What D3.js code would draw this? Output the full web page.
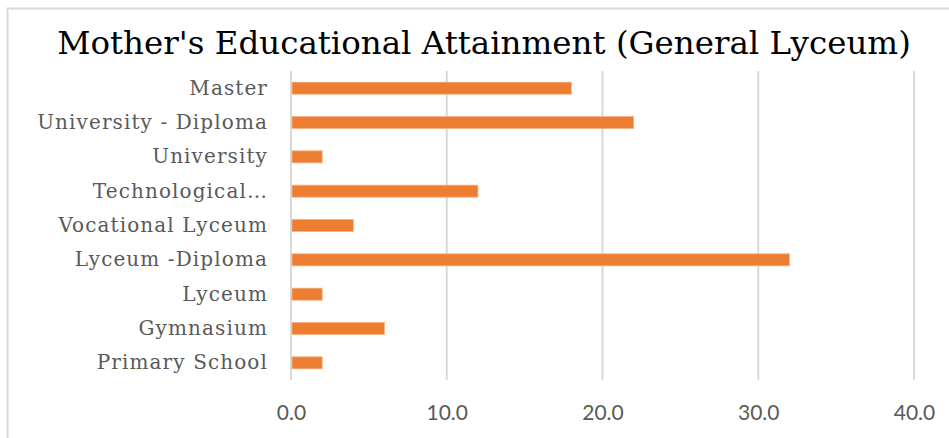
<!DOCTYPE html>
<html>
<head>
<meta charset="utf-8">
<script src="https://cdn.jsdelivr.net/npm/d3@7"></script>
<style>
  html, body { margin: 0; padding: 0; background: #fff; }
  svg { display: block; }
</style>
</head>
<body>
<svg id="chart" width="949" height="438"></svg>
<script>
// Categories listed top to bottom
const categories = [
  "Master",
  "University - Diploma",
  "University ",
  "Technological\u2026",
  "Vocational Lyceum",
  "Lyceum -Diploma",
  "Lyceum",
  "Gymnasium",
  "Primary School"
];
const values = [18, 22, 2, 12, 4, 32, 2, 6, 2];
const xTicks = [0, 10, 20, 30, 40];
const title = "Mother's Educational Attainment (General Lyceum)";

const svg = d3.select("#chart");
const W = 949, H = 438;
const margin = { left: 291, right: 35, top: 71, bottom: 58 };

// Chart frame
svg.append("rect")
  .attr("x", 7.5).attr("y", 8.5)
  .attr("width", W + 20).attr("height", H + 20)
  .attr("fill", "#fff")
  .attr("stroke", "#d9d9d9").attr("stroke-width", 2);

const x = d3.scaleLinear().domain([0, 40]).range([margin.left, 914]);
const y = d3.scaleBand().domain(categories)
  .range([margin.top, H - margin.bottom])
  .paddingInner(0.65).paddingOuter(0.325);

// Vertical gridlines
svg.append("g")
  .selectAll("line")
  .data(xTicks)
  .join("line")
  .attr("x1", d => x(d)).attr("x2", d => x(d))
  .attr("y1", margin.top).attr("y2", H - margin.bottom)
  .attr("stroke", "#d9d9d9").attr("stroke-width", 2);

// Bars
svg.append("g")
  .selectAll("rect")
  .data(values)
  .join("rect")
  .attr("x", x(0) + 1)
  .attr("y", (d, i) => y(categories[i]))
  .attr("width", d => x(d) - x(0) - 1)
  .attr("height", y.bandwidth())
  .attr("fill", "#ED7D31")
  .attr("stroke", "#F4B183").attr("stroke-width", 0.8);

// Category labels
const yAxis = d3.axisLeft(y).tickSize(0).tickPadding(23);
const gy = svg.append("g")
  .attr("transform", `translate(${margin.left},0)`)
  .call(yAxis);
gy.select(".domain").remove();
gy.selectAll("text")
  .attr("font-family", "'DejaVu Serif', serif")
  .attr("font-size", 20)
  .attr("letter-spacing", 1.1)
  .attr("fill", "#595959");

// Value axis labels
const xAxis = d3.axisBottom(x).tickValues(xTicks)
  .tickFormat(d3.format(".1f")).tickSize(0).tickPadding(25);
const gx = svg.append("g")
  .attr("transform", `translate(0,${H - margin.bottom})`)
  .call(xAxis);
gx.select(".domain").remove();
gx.selectAll("text")
  .attr("font-family", "Lato, 'Open Sans', sans-serif")
  .attr("font-size", 21)
  .attr("fill", "#595959");

// Title
svg.append("text")
  .attr("x", 484).attr("y", 54)
  .attr("text-anchor", "middle")
  .attr("font-family", "'DejaVu Serif', serif")
  .attr("font-size", 32.5)
  .attr("fill", "#000")
  .text(title);
</script>
</body>
</html>
